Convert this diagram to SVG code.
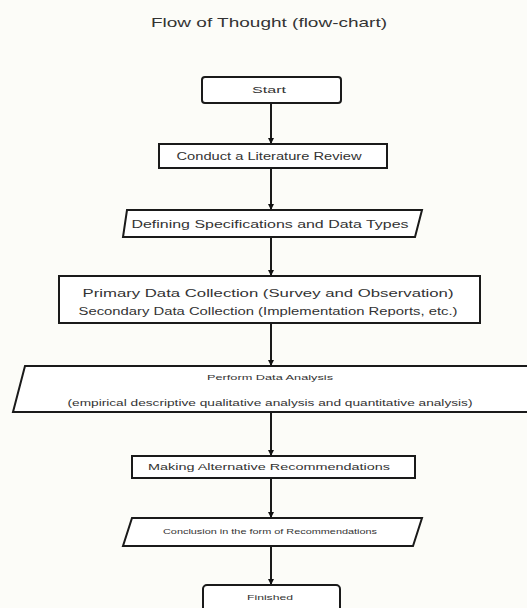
<svg xmlns="http://www.w3.org/2000/svg" width="527" height="608" viewBox="0 0 527 608">
<defs>
<marker id="ah" markerWidth="6" markerHeight="6" refX="5" refY="3" orient="auto" markerUnits="userSpaceOnUse">
<path d="M0,0 L6,3 L0,6 Z" fill="#111"/>
</marker>
<style>
.box{fill:#fff;stroke:#1a1a1a;stroke-width:2}
.t{font-family:"Liberation Sans",Arial,sans-serif;fill:#333;text-anchor:middle}
.c{stroke:#1a1a1a;stroke-width:2;fill:none;marker-end:url(#ah)}
</style>
</defs>
<rect width="527" height="608" fill="#fcfcf8"/>
<text class="t" x="269" y="27" font-size="13" textLength="236" lengthAdjust="spacingAndGlyphs">Flow of Thought (flow-chart)</text>
<g id="connectors">
<line class="c" x1="271" y1="103" x2="271" y2="143"/>
<line class="c" x1="271" y1="168" x2="271" y2="209"/>
<line class="c" x1="271" y1="237" x2="271" y2="275"/>
<line class="c" x1="271" y1="323" x2="271" y2="365"/>
<line class="c" x1="271" y1="412" x2="271" y2="455"/>
<line class="c" x1="271" y1="478" x2="271" y2="517"/>
<line class="c" x1="271" y1="546" x2="271" y2="584"/>
</g>
<g id="start">
<rect class="box" x="202" y="77" width="139" height="26" rx="3"/>
<text class="t" x="269" y="93" font-size="9" textLength="34" lengthAdjust="spacingAndGlyphs">Start</text>
</g>
<g id="literature">
<rect class="box" x="159" y="144" width="228" height="24"/>
<text class="t" x="269" y="160" font-size="10" textLength="185" lengthAdjust="spacingAndGlyphs">Conduct a Literature Review</text>
</g>
<g id="specs">
<polygon class="box" points="127,210 422,210 415,237 123,237"/>
<text class="t" x="270" y="228" font-size="11" textLength="277" lengthAdjust="spacingAndGlyphs">Defining Specifications and Data Types</text>
</g>
<g id="collection">
<rect class="box" x="59" y="276" width="421" height="47"/>
<text class="t" x="268" y="297" font-size="11" textLength="371" lengthAdjust="spacingAndGlyphs">Primary Data Collection (Survey and Observation)</text>
<text class="t" x="268" y="315" font-size="10" textLength="379" lengthAdjust="spacingAndGlyphs">Secondary Data Collection (Implementation Reports, etc.)</text>
</g>
<g id="analysis">
<polygon class="box" points="25,366 535,366 535,412 13,412"/>
<text class="t" x="270" y="380" font-size="7" textLength="126" lengthAdjust="spacingAndGlyphs">Perform Data Analysis</text>
<text class="t" x="270" y="406" font-size="9" textLength="405" lengthAdjust="spacingAndGlyphs">(empirical descriptive qualitative analysis and quantitative analysis)</text>
</g>
<g id="alternatives">
<rect class="box" x="132" y="456" width="283" height="22"/>
<text class="t" x="269" y="470" font-size="9" textLength="242" lengthAdjust="spacingAndGlyphs">Making Alternative Recommendations</text>
</g>
<g id="conclusion">
<polygon class="box" points="132,518 422,518 413,546 123,546"/>
<text class="t" x="270" y="534" font-size="7" textLength="214" lengthAdjust="spacingAndGlyphs">Conclusion in the form of Recommendations</text>
</g>
<g id="finished">
<rect class="box" x="203" y="585" width="137" height="30" rx="4"/>
<text class="t" x="270" y="600" font-size="8" textLength="46" lengthAdjust="spacingAndGlyphs">Finished</text>
</g>
</svg>
